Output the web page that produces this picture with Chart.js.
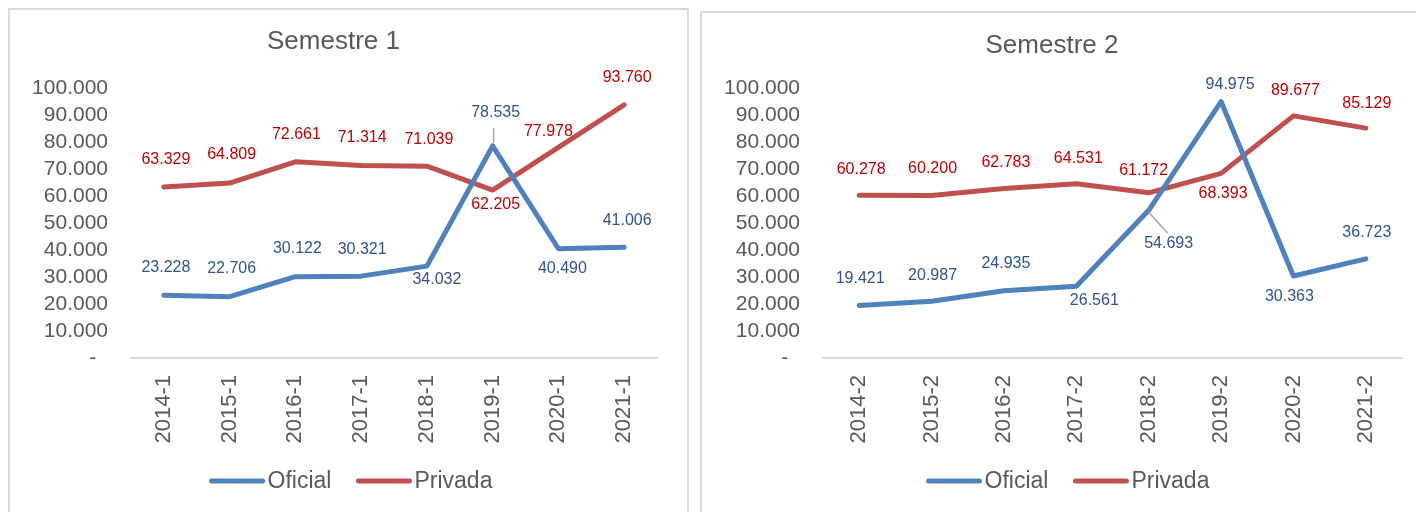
<!DOCTYPE html>
<html>
<head>
<meta charset="utf-8">
<script src="https://cdn.jsdelivr.net/npm/chart.js@4/dist/chart.umd.min.js"></script>
<style>
  body { margin: 0; background: #fff; width: 1416px; height: 512px; overflow: hidden; position: relative; }
  .caixa { position: absolute; border: 2px solid #d9d9d9; box-sizing: border-box; }
  canvas { position: absolute; }
</style>
</head>
<body>
<div class="caixa" style="left:8px; top:8px; width:681px; height:540px;"></div>
<div class="caixa" style="left:700px; top:11px; width:760px; height:540px;"></div>
<canvas id="grafico1" style="left:10px; top:10px; width:676px; height:502px;"></canvas>
<canvas id="grafico2" style="left:702px; top:13px; width:714px; height:499px;"></canvas>
<script>
const categorias1 = ["2014-1", "2015-1", "2016-1", "2017-1", "2018-1", "2019-1", "2020-1", "2021-1"];
const oficial1 = [23228, 22706, 30122, 30321, 34032, 78535, 40490, 41006];
const privada1 = [63329, 64809, 72661, 71314, 71039, 62205, 77978, 93760];

const categorias2 = ["2014-2", "2015-2", "2016-2", "2017-2", "2018-2", "2019-2", "2020-2", "2021-2"];
const oficial2 = [19421, 20987, 24935, 26561, 54693, 94975, 30363, 36723];
const privada2 = [60278, 60200, 62783, 64531, 61172, 68393, 89677, 85129];

const series = ["Oficial", "Privada"];
const eixoMax = 100000;
const eixoPasso = 10000;

// posicao dos rotulos (deslocamento a partir do ponto)
const posOficial1 = [[2, -28], [2, -28], [2, -28], [1, -27], [10, 13], [3, -33], [4, 20], [3, -27]];
const posPrivada1 = [[2, -27], [2, -28], [1, -27], [1, -28], [2, -27], [3, 15], [-10, -16], [3, -27]];
const posOficial2 = [[1, -27], [1, -26], [2, -27], [18, 14], [20, 33], [9, -17], [-4, 21], [1, -26]];
const posPrivada2 = [[2, -26], [1, -27], [2, -26], [2, -25], [-5, -22], [2, 20], [2, -25], [1, -25]];

const corOficial = "#4f81bd";
const corPrivada = "#c0504d";
const corRotuloOficial = "#2f528f";
const corRotuloPrivada = "#c00000";
const corTexto = "#595959";
const fonte = "'Liberation Sans', Arial, sans-serif";

function formatar(v) {
  if (v === 0) return "-  ";
  return v.toLocaleString("de-DE");
}

const rotulosPlugin = {
  id: "rotulos",
  afterDatasetsDraw(chart, args, opts) {
    const ctx = chart.ctx;
    ctx.save();
    ctx.font = "16px " + fonte;
    ctx.textAlign = "center";
    ctx.textBaseline = "middle";
    chart.data.datasets.forEach(function (ds, i) {
      const meta = chart.getDatasetMeta(i);
      meta.data.forEach(function (pt, j) {
        const off = ds.posRotulos[j];
        if (ds.linhaGuia && ds.linhaGuia.indice === j) {
          const g = ds.linhaGuia;
          ctx.strokeStyle = "#a6a6a6";
          ctx.lineWidth = 1.5;
          ctx.beginPath();
          ctx.moveTo(pt.x + g.de[0], pt.y + g.de[1]);
          ctx.lineTo(pt.x + g.ate[0], pt.y + g.ate[1]);
          ctx.stroke();
        }
        ctx.fillStyle = ds.corRotulo;
        ctx.fillText(formatar(ds.data[j]), pt.x + off[0], pt.y + off[1]);
      });
    });
    ctx.restore();
  },
};

const legendaPlugin = {
  id: "legendaLinha",
  afterDraw(chart, args, opts) {
    const ctx = chart.ctx;
    ctx.save();
    ctx.font = "23px " + fonte;
    ctx.textBaseline = "middle";
    const tamLinha = 55;
    const espaco = 3;
    const entre = 25;
    let total = 0;
    chart.data.datasets.forEach(function (ds, i) {
      total += tamLinha + espaco + ctx.measureText(ds.label).width;
      if (i > 0) total += entre;
    });
    let x = opts.cx - total / 2;
    chart.data.datasets.forEach(function (ds) {
      ctx.strokeStyle = ds.borderColor;
      ctx.lineWidth = 5;
      ctx.lineCap = "round";
      ctx.beginPath();
      ctx.moveTo(x + 2, opts.cy);
      ctx.lineTo(x + tamLinha - 2, opts.cy);
      ctx.stroke();
      x += tamLinha + espaco;
      ctx.fillStyle = corTexto;
      ctx.fillText(ds.label, x, opts.cy + 1);
      x += ctx.measureText(ds.label).width + entre;
    });
    ctx.restore();
  },
};

function criarGrafico(id, titulo, categorias, oficial, privada, posOf, posPr, guia, cfg) {
  return new Chart(document.getElementById(id), {
    type: "line",
    data: {
      labels: categorias,
      datasets: [
        {
          label: series[0],
          data: oficial,
          borderColor: corOficial,
          backgroundColor: corOficial,
          borderWidth: 5,
          pointRadius: 0,
          borderCapStyle: "round",
          borderJoinStyle: "round",
          tension: 0,
          corRotulo: corRotuloOficial,
          posRotulos: posOf,
          linhaGuia: guia,
        },
        {
          label: series[1],
          data: privada,
          borderColor: corPrivada,
          backgroundColor: corPrivada,
          borderWidth: 5,
          pointRadius: 0,
          borderCapStyle: "round",
          borderJoinStyle: "round",
          tension: 0,
          corRotulo: corRotuloPrivada,
          posRotulos: posPr,
        },
      ],
    },
    plugins: [rotulosPlugin, legendaPlugin],
    options: {
      responsive: false,
      animation: false,
      layout: {
        padding: { left: 0, right: cfg.padRight, top: 0, bottom: 0 },
      },
      plugins: {
        legend: { display: false },
        tooltip: { enabled: false },
        title: {
          display: true,
          text: titulo,
          color: corTexto,
          font: { family: fonte, size: 26, weight: "normal", lineHeight: 1.2 },
          padding: { top: cfg.tituloTop, bottom: cfg.tituloBottom },
        },
        legendaLinha: { cx: cfg.legX, cy: cfg.legY },
      },
      scales: {
        x: {
          offset: true,
          grid: { display: false, drawTicks: false, offset: true },
          border: { display: true, color: "#d9d9d9", width: 2 },
          ticks: {
            color: corTexto,
            font: { family: fonte, size: 22 },
            minRotation: 90,
            maxRotation: 90,
            padding: 17,
            autoSkip: false,
          },
          afterFit: function (s) { s.height = cfg.alturaX; },
        },
        y: {
          min: 0,
          max: eixoMax,
          grid: { display: false, drawTicks: false },
          border: { display: false },
          ticks: {
            stepSize: eixoPasso,
            autoSkip: false,
            color: corTexto,
            font: { family: fonte, size: 21 },
            padding: 23,
            callback: function (v) { return formatar(v); },
          },
          afterFit: function (s) { s.width = 121; },
        },
      },
    },
  });
}

function prepararCanvas(id, w, h) {
  const c = document.getElementById(id);
  c.width = w;
  c.height = h;
}

prepararCanvas("grafico1", 676, 502);
prepararCanvas("grafico2", 714, 499);

criarGrafico("grafico1", "Semestre 1", categorias1, oficial1, privada1, posOficial1, posPrivada1,
  { indice: 5, de: [1, -3], ate: [1, -18] },
  { padRight: 29, tituloTop: 16.4, tituloBottom: 30.4, alturaX: 154, legX: 341, legY: 471 });

criarGrafico("grafico2", "Semestre 2", categorias2, oficial2, privada2, posOficial2, posPrivada2,
  { indice: 4, de: [0, 2], ate: [19, 23] },
  { padRight: 14, tituloTop: 17.4, tituloBottom: 26.4, alturaX: 154, legX: 366, legY: 468 });
</script>
</body>
</html>
